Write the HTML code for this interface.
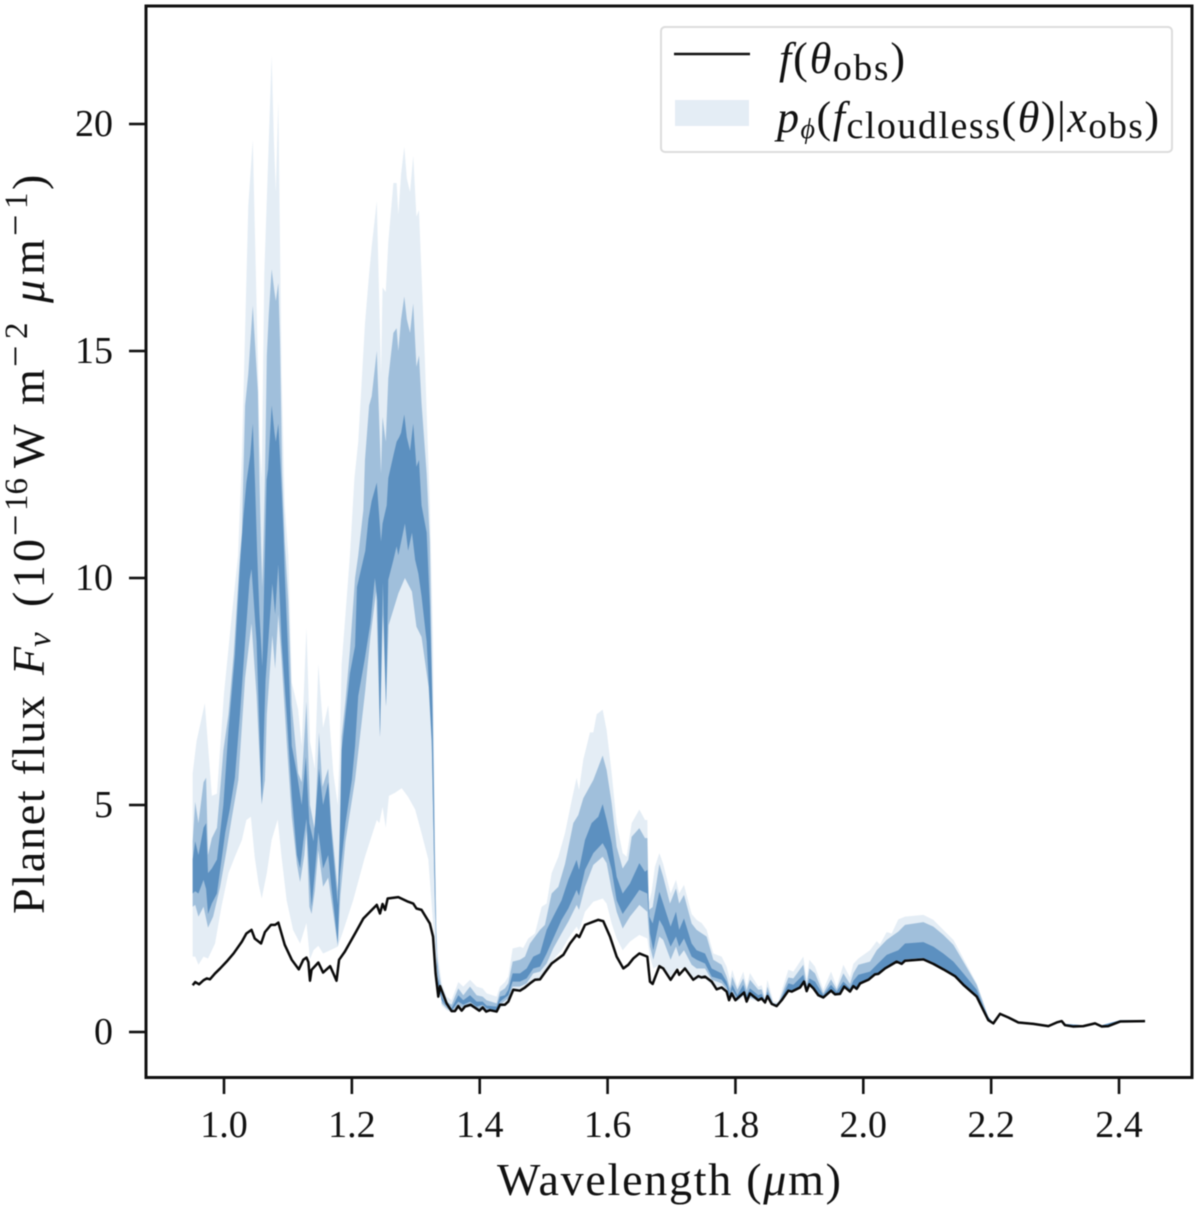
<!DOCTYPE html>
<html lang="en">
<head>
<meta charset="utf-8">
<title>Planet flux spectrum</title>
<style>
html,body{margin:0;padding:0;background:#fff;}
svg{display:block;filter:blur(0.45px);}
text{font-family:"Liberation Serif","DejaVu Serif",serif;fill:#111;}
.it{font-style:italic;}
</style>
</head>
<body>
<svg id="chart" width="1200" height="1212" viewBox="0 0 1200 1212" xmlns="http://www.w3.org/2000/svg">
<rect x="0" y="0" width="1200" height="1212" fill="#fff"/>
<g id="bands"></g>
<g id="lines"></g>
<rect x="146" y="6" width="1046" height="1071.5" fill="none" stroke="#111" stroke-width="3"/>
<g id="xticks"></g>
<g id="yticks"></g>
<text x="497" y="1195" font-size="46" textLength="344" lengthAdjust="spacing">Wavelength (<tspan class="it">μ</tspan>m)</text>
<g>
<text transform="translate(44,914) rotate(-90)" font-size="46" textLength="218" lengthAdjust="spacing">Planet flux</text>
<text class="it" transform="translate(44,675) rotate(-90)" font-size="46">F</text>
<text class="it" transform="translate(50,647) rotate(-90)" font-size="33">ν</text>
<text transform="translate(44,607) rotate(-90)" font-size="46" textLength="68" lengthAdjust="spacing">(10</text>
<text transform="translate(28,536) rotate(-90)" font-size="38">−</text>
<text transform="translate(27,511) rotate(-90)" font-size="33">16</text>
<text transform="translate(44,468) rotate(-90)" font-size="46">W</text>
<text transform="translate(44,405) rotate(-90)" font-size="46">m</text>
<text transform="translate(28,367) rotate(-90)" font-size="38">−</text>
<text transform="translate(27,339) rotate(-90)" font-size="33">2</text>
<text class="it" transform="translate(44,303) rotate(-90)" font-size="46">μ</text>
<text transform="translate(44,275) rotate(-90)" font-size="46">m</text>
<text transform="translate(28,236) rotate(-90)" font-size="38">−</text>
<text transform="translate(27,209) rotate(-90)" font-size="33">1</text>
<text transform="translate(44,190) rotate(-90)" font-size="46">)</text>
</g>
<g>
<rect x="661" y="27" width="511" height="125" rx="4" fill="#fff" fill-opacity="0.85" stroke="#dcdcdc" stroke-width="2"/>
<line x1="674" y1="54" x2="750" y2="54" stroke="#111" stroke-width="2.4"/>
<rect x="675" y="100" width="74" height="26" fill="#e4edf5"/>
<text x="779" y="73" font-size="44" textLength="126" lengthAdjust="spacing"><tspan class="it">f</tspan>(<tspan class="it">θ</tspan><tspan font-size="37" dy="7">obs</tspan><tspan dy="-7">)</tspan></text>
<text x="777" y="132" font-size="44" textLength="382" lengthAdjust="spacing"><tspan class="it">p</tspan><tspan class="it" font-size="28" dy="6">ϕ</tspan><tspan dy="-6">(</tspan><tspan class="it">f</tspan><tspan font-size="38" dy="6">cloudless</tspan><tspan dy="-6">(</tspan><tspan class="it">θ</tspan>)|<tspan class="it">x</tspan><tspan font-size="37" dy="6">obs</tspan><tspan dy="-6">)</tspan></text>
</g>
</svg>
<script>
const xTickValues = [1.0, 1.2, 1.4, 1.6, 1.8, 2.0, 2.2, 2.4];
const xTickLabels = ["1.0", "1.2", "1.4", "1.6", "1.8", "2.0", "2.2", "2.4"];
const yTickValues = [0, 5, 10, 15, 20];
const yTickLabels = ["0", "5", "10", "15", "20"];

const observed = [[.951,1.03],[.955,1.1],[.961,1.05],[.968,1.14],[.973,1.18],[.978,1.16],[.986,1.29],[.994,1.4],[1.004,1.55],[1.015,1.73],[1.028,1.99],[1.035,2.17],[1.043,2.25],[1.048,2.06],[1.058,1.95],[1.064,2.2],[1.0735,2.36],[1.08,2.36],[1.085,2.41],[1.095,1.92],[1.106,1.59],[1.117,1.38],[1.124,1.59],[1.129,1.64],[1.132,1.54],[1.1345,1.13],[1.137,1.37],[1.1476,1.53],[1.155,1.31],[1.166,1.45],[1.171,1.29],[1.176,1.13],[1.18,1.59],[1.189,1.77],[1.205,2.17],[1.218,2.5],[1.239,2.8],[1.244,2.61],[1.248,2.82],[1.252,2.69],[1.256,2.94],[1.2727,2.97],[1.288,2.87],[1.296,2.83],[1.301,2.72],[1.309,2.69],[1.322,2.39],[1.327,2.1],[1.331,1.29],[1.3352,.78],[1.338,1.01],[1.3483,.63],[1.356,.46],[1.3613,.46],[1.3665,.57],[1.3717,.47],[1.377,.56],[1.3858,.6],[1.3994,.47],[1.4046,.54],[1.41,.45],[1.416,.48],[1.4265,.45],[1.4317,.6],[1.4395,.6],[1.4447,.67],[1.4525,.93],[1.463,.91],[1.4708,.98],[1.4786,1.07],[1.4864,1.15],[1.4943,1.16],[1.502,1.31],[1.5125,1.51],[1.523,1.62],[1.5308,1.7],[1.5412,1.95],[1.5516,2.14],[1.5558,2.09],[1.5647,2.36],[1.5777,2.43],[1.5855,2.47],[1.5933,2.44],[1.6038,2.1],[1.6142,1.66],[1.6246,1.4],[1.6324,1.48],[1.6403,1.62],[1.6497,1.73],[1.6622,1.66],[1.6663,1.11],[1.6705,1.06],[1.681,1.45],[1.687,1.4],[1.6986,1.15],[1.709,1.37],[1.712,1.26],[1.721,1.4],[1.734,1.15],[1.742,1.23],[1.747,1.2],[1.7524,1.22],[1.7628,1.11],[1.7706,.94],[1.7784,.98],[1.7862,.89],[1.79,.7],[1.794,.85],[1.8,.7],[1.8134,.87],[1.8175,.67],[1.8227,.85],[1.8358,.7],[1.841,.74],[1.8463,.65],[1.85,.79],[1.8567,.62],[1.8645,.57],[1.8723,.7],[1.8828,.91],[1.888,.89],[1.901,.98],[1.9073,1.11],[1.9114,.9],[1.9156,1.05],[1.922,.96],[1.9297,.81],[1.9375,.76],[1.9495,.91],[1.9557,.83],[1.9636,.84],[1.97,1],[1.9792,.89],[1.9844,1.01],[1.9897,.95],[1.995,1.07],[2.008,1.15],[2.0183,1.27],[2.0235,1.28],[2.034,1.4],[2.0522,1.55],[2.06,1.5],[2.0653,1.57],[2.094,1.6],[2.1096,1.5],[2.1252,1.38],[2.1435,1.23],[2.1565,1.04],[2.1774,.78],[2.1878,.48],[2.1956,.26],[2.2034,.19],[2.2139,.4],[2.227,.32],[2.2425,.21],[2.266,.18],[2.2895,.13],[2.3025,.21],[2.3103,.24],[2.3155,.15],[2.3286,.12],[2.3442,.13],[2.3625,.19],[2.373,.12],[2.3833,.13],[2.4016,.23],[2.4407,.24]];

const outerUpper = [[.951,5.7],[.957,6.4],[.97,7.24],[.981,5.2],[.989,5.25],[1.0,7.46],[1.012,9.15],[1.022,10.5],[1.028,12.7],[1.034,16],[1.038,18.2],[1.045,19.65],[1.051,16],[1.056,12.9],[1.059,12.2],[1.063,16.7],[1.07,19.6],[1.0745,21.5],[1.078,19.65],[1.081,18.5],[1.085,20.5],[1.0876,17.4],[1.09,14.5],[1.095,11.6],[1.1006,10.5],[1.106,7.7],[1.116,7.1],[1.1215,6.3],[1.129,8.9],[1.1345,6.4],[1.142,5.8],[1.1476,8.1],[1.155,6.7],[1.163,7.2],[1.171,5.7],[1.178,5],[1.181,6.2],[1.184,8.1],[1.19,9.2],[1.197,10.5],[1.204,12.2],[1.21,13],[1.2205,15.6],[1.227,16.7],[1.231,17.3],[1.239,18.3],[1.2456,14.5],[1.248,16.4],[1.253,16.3],[1.257,17.4],[1.265,18.7],[1.27,18.7],[1.2727,18],[1.277,18.9],[1.282,19.5],[1.286,18.8],[1.291,18.5],[1.296,19.3],[1.301,17.96],[1.305,18.1],[1.309,16.7],[1.314,14.9],[1.322,11.6],[1.327,8.6],[1.33,4.2],[1.3327,2.2],[1.3352,1.6],[1.3405,1.07],[1.3483,.78],[1.356,.7],[1.3665,1.1],[1.3743,1],[1.3848,1.15],[1.3952,1],[1.4046,.96],[1.4108,.85],[1.4265,.78],[1.4317,1],[1.4395,1.1],[1.4447,1.22],[1.4515,1.84],[1.463,1.88],[1.468,1.85],[1.476,2.06],[1.4864,2.17],[1.4969,2.76],[1.5047,2.83],[1.5125,3.5],[1.523,3.86],[1.5334,4.38],[1.5438,5.1],[1.5516,5.6],[1.5553,5.33],[1.562,6],[1.5725,6.6],[1.5777,6.6],[1.583,7],[1.5923,7.1],[1.5985,6.65],[1.6064,5.7],[1.6142,4.6],[1.6236,3.94],[1.6298,3.86],[1.6377,4.6],[1.6497,4.9],[1.6585,4.67],[1.6622,4.67],[1.6642,2.83],[1.669,3.1],[1.674,3.64],[1.681,3.94],[1.687,3.7],[1.6986,3.05],[1.707,3.35],[1.712,3.05],[1.7195,3.24],[1.7315,2.6],[1.7393,2.47],[1.747,2.4],[1.755,2.25],[1.7654,1.73],[1.7784,1.66],[1.7862,1.44],[1.7915,1.15],[1.795,1.37],[1.803,1],[1.8123,1.33],[1.8175,1],[1.8227,1.3],[1.8358,1],[1.841,1.03],[1.8463,.78],[1.85,1.15],[1.8593,.67],[1.867,.67],[1.8828,1.37],[1.8906,1.33],[1.9062,1.66],[1.9114,1.15],[1.9156,1.59],[1.9245,1.44],[1.9375,.93],[1.9495,1.33],[1.9584,1],[1.9688,1.48],[1.9792,1.2],[1.9844,1.5],[1.9923,1.62],[2.0105,1.8],[2.021,2],[2.026,1.93],[2.0366,2.2],[2.0444,2.17],[2.0548,2.48],[2.0653,2.54],[2.094,2.58],[2.1096,2.47],[2.1252,2.25],[2.141,2.03],[2.1565,1.62],[2.1774,1.07],[2.1878,.67]];

const middleUpper = [[.951,4.2],[.955,5.07],[.96,4.6],[.968,5.5],[.972,5.6],[.975,3.9],[.981,4.27],[.989,4.5],[.995,5.5],[.999,6.2],[1.007,7],[1.015,8.3],[1.025,10.5],[1.028,11],[1.033,13.8],[1.038,14.5],[1.045,16],[1.053,14.1],[1.0555,12.16],[1.058,10.7],[1.06,9.8],[1.062,10.9],[1.064,12.16],[1.067,14.9],[1.07,15.8],[1.0745,16.8],[1.079,16.3],[1.081,16.1],[1.085,16.5],[1.0876,15.2],[1.091,12.3],[1.095,10.8],[1.1006,9.5],[1.106,7.2],[1.116,5.7],[1.1215,5.5],[1.129,7.28],[1.1345,5],[1.142,4.45],[1.1486,6.6],[1.154,5.4],[1.163,5.8],[1.168,4.6],[1.178,3.1],[1.181,4.4],[1.184,6.5],[1.19,7.3],[1.197,8.4],[1.205,10],[1.21,10.5],[1.218,11.5],[1.2205,12.6],[1.227,13.8],[1.231,14],[1.239,15],[1.2456,12.3],[1.248,13.55],[1.253,13],[1.257,14.4],[1.265,15.4],[1.27,15.5],[1.2727,15],[1.277,15.7],[1.282,16.2],[1.286,15.7],[1.291,15.4],[1.296,16.05],[1.301,14.65],[1.305,14.9],[1.309,13.85],[1.317,12.3],[1.322,10.8],[1.325,8.3],[1.329,5],[1.3316,2],[1.3352,1.4],[1.3405,.93],[1.3483,.67],[1.356,.6],[1.3665,.96],[1.3743,.81],[1.3848,1],[1.3952,.81],[1.4046,.78],[1.4108,.7],[1.4265,.63],[1.4317,.89],[1.4395,.96],[1.4447,1.07],[1.4515,1.55],[1.463,1.59],[1.4708,1.66],[1.4786,1.95],[1.4943,2.25],[1.502,2.36],[1.5125,3.05],[1.523,3.2],[1.5334,3.7],[1.5464,4.6],[1.5542,4.78],[1.562,5.15],[1.5777,5.55],[1.5923,6.09],[1.5985,5.77],[1.6064,5.04],[1.6142,4.08],[1.6236,3.6],[1.6324,3.79],[1.6377,4.3],[1.6497,4.49],[1.6585,4.27],[1.6622,4.27],[1.6647,2.69],[1.6705,2.75],[1.681,3.7],[1.687,3.42],[1.6976,2.83],[1.707,3.16],[1.712,2.83],[1.7195,3.02],[1.7315,2.39],[1.7393,2.25],[1.755,2.1],[1.7654,1.59],[1.7784,1.48],[1.7862,1.22],[1.7915,.96],[1.795,1.22],[1.803,.93],[1.8123,1.18],[1.8175,.92],[1.8227,1.15],[1.8358,.93],[1.841,.94],[1.8463,.7],[1.85,1],[1.8593,.62],[1.867,.63],[1.8828,1.2],[1.8906,1.18],[1.9062,1.48],[1.9114,1.03],[1.9156,1.4],[1.9245,1.29],[1.9375,.85],[1.9495,1.16],[1.9584,.94],[1.9688,1.29],[1.9792,1.06],[1.9844,1.29],[1.9923,1.48],[2.0105,1.55],[2.021,1.8],[2.0366,2.03],[2.0548,2.21],[2.0653,2.36],[2.094,2.42],[2.1096,2.32],[2.1252,2.14],[2.141,1.92],[2.1565,1.55],[2.1774,1.04],[2.1878,.63]];

const innerUpper = [[.951,3.8],[.955,4.2],[.96,3.9],[.968,4.5],[.972,4.6],[.975,3.5],[.981,3.6],[.989,3.8],[.999,5],[1.007,6.65],[1.017,8.3],[1.025,10.3],[1.03,11.3],[1.035,12.1],[1.041,12.7],[1.045,13.4],[1.0485,12.1],[1.052,10.5],[1.0555,9.2],[1.06,8.05],[1.063,9.96],[1.0667,12.16],[1.069,12.4],[1.0745,13.8],[1.079,13.2],[1.081,13],[1.085,13.4],[1.089,12.3],[1.093,11],[1.095,10.1],[1.0996,8.6],[1.106,6.3],[1.114,5.7],[1.1215,5],[1.128,6.06],[1.1335,4.6],[1.14,4.2],[1.1486,5.8],[1.155,5],[1.163,5.5],[1.168,4.4],[1.178,2.8],[1.181,4.2],[1.184,6.2],[1.19,7],[1.197,7.9],[1.205,8.5],[1.208,9.8],[1.221,10.6],[1.226,11.3],[1.231,11.7],[1.239,12.1],[1.2456,10.8],[1.248,11.2],[1.2545,11.6],[1.257,12.2],[1.265,12.7],[1.27,13],[1.274,13.1],[1.277,13.2],[1.282,13.6],[1.286,13.1],[1.291,12.8],[1.296,13.4],[1.301,12.45],[1.305,12.6],[1.309,11.6],[1.317,11],[1.322,9.4],[1.326,7.2],[1.329,4.2],[1.3327,1.66],[1.3352,1.2],[1.3405,.78],[1.3483,.56],[1.356,.52],[1.3665,.81],[1.3743,.7],[1.3848,.81],[1.3952,.67],[1.4046,.67],[1.4108,.58],[1.4265,.56],[1.4317,.78],[1.4395,.81],[1.4447,.93],[1.4515,1.29],[1.463,1.29],[1.4734,1.4],[1.4838,1.66],[1.4943,1.73],[1.5047,2.25],[1.515,2.54],[1.528,2.9],[1.5386,3.35],[1.5516,3.79],[1.5553,3.57],[1.5647,4.23],[1.575,4.6],[1.5855,4.74],[1.5923,5.02],[1.5985,4.67],[1.6064,4.16],[1.6142,3.42],[1.6236,3.05],[1.635,3.27],[1.6497,3.72],[1.6585,3.53],[1.6622,3.57],[1.6653,2.54],[1.6705,2.39],[1.681,3.09],[1.687,2.83],[1.6986,2.32],[1.707,2.65],[1.712,2.25],[1.7195,2.5],[1.7315,1.95],[1.7393,1.8],[1.7524,1.73],[1.7628,1.4],[1.7784,1.29],[1.7862,1.11],[1.7915,.85],[1.795,1.04],[1.803,.81],[1.8123,1.04],[1.8175,.81],[1.8227,.96],[1.8358,.81],[1.841,.84],[1.8463,.67],[1.85,.89],[1.8593,.59],[1.867,.6],[1.8828,1.07],[1.8906,1.04],[1.9062,1.26],[1.9114,.96],[1.9156,1.18],[1.9245,1.11],[1.9375,.81],[1.9495,1.04],[1.9584,.89],[1.9688,1.11],[1.9792,.96],[1.9844,1.13],[1.9923,1.26],[2.0105,1.33],[2.021,1.48],[2.0366,1.7],[2.0548,1.8],[2.0653,1.95],[2.094,1.98],[2.1096,1.88],[2.1252,1.73],[2.141,1.55],[2.1565,1.29],[2.1774,.93],[2.1878,.56]];

const innerLower = [[.951,3.05],[.955,3.1],[.96,3.05],[.968,3.35],[.972,3.15],[.975,2.6],[.981,2.83],[.989,3.05],[1.002,4.4],[1.009,4.9],[1.017,5.6],[1.025,7],[1.033,8.6],[1.04,9.95],[1.043,10.2],[1.051,8.6],[1.059,5],[1.065,7.75],[1.0756,9.88],[1.08,9.2],[1.085,10.3],[1.09,8.6],[1.098,7],[1.106,5.2],[1.114,3.9],[1.119,3.6],[1.124,4.2],[1.129,4.7],[1.1335,3.5],[1.137,2.76],[1.142,3.5],[1.1476,4.4],[1.155,3.6],[1.163,3.9],[1.168,3.2],[1.178,1.95],[1.181,3.4],[1.19,4.6],[1.2,5.55],[1.205,6.3],[1.21,7.4],[1.22,8.2],[1.229,9],[1.236,10],[1.24,9.5],[1.244,6.5],[1.2485,9.9],[1.2534,7.17],[1.257,9.96],[1.265,10.4],[1.27,10.7],[1.2727,10.5],[1.283,11.2],[1.288,10.6],[1.294,11],[1.299,10.4],[1.304,10.1],[1.309,9.6],[1.317,8.6],[1.325,6.4],[1.329,3.5],[1.3327,1.44],[1.3352,1],[1.3405,.7],[1.3483,.56],[1.356,.47],[1.3665,.67],[1.3743,.6],[1.3848,.67],[1.3952,.56],[1.4046,.6],[1.4108,.52],[1.4265,.48],[1.4317,.67],[1.4447,.81],[1.4515,1.11],[1.463,1.11],[1.4734,1.18],[1.4838,1.4],[1.4943,1.44],[1.5047,1.73],[1.515,2.06],[1.528,2.47],[1.5386,2.72],[1.5516,3.13],[1.5553,3],[1.5647,3.57],[1.5777,3.94],[1.5923,4.16],[1.5985,4],[1.6064,3.57],[1.6142,2.9],[1.6236,2.6],[1.635,2.83],[1.6497,3.13],[1.6622,3.05],[1.6663,2.17],[1.6715,1.8],[1.681,2.47],[1.687,2.32],[1.6986,1.88],[1.707,2.1],[1.712,1.88],[1.7195,2.06],[1.7315,1.66],[1.7393,1.59],[1.7524,1.51],[1.7628,1.22],[1.7784,1.15],[1.7862,1],[1.7915,.78],[1.795,.93],[1.803,.74],[1.8123,.89],[1.8175,.74],[1.8227,.81],[1.8358,.74]];

const middleLower = [[.951,2.76],[.955,2.8],[.96,2.54],[.968,2.76],[.975,2.3],[.983,2.54],[.994,3.2],[1.004,4],[1.012,4.7],[1.0224,5.55],[1.033,7.8],[1.043,9],[1.051,7.4],[1.059,5.03],[1.064,5.55],[1.067,7],[1.0756,8.74],[1.08,8],[1.085,9.2],[1.09,8.2],[1.098,6.4],[1.106,4.74],[1.114,3.7],[1.119,3.3],[1.1257,3.9],[1.129,4.45],[1.1335,2.76],[1.137,2.6],[1.142,3.1],[1.1476,4],[1.155,3.2],[1.163,3.4],[1.171,2.6],[1.178,1.88],[1.182,3],[1.19,4.2],[1.205,5.55],[1.221,7.53],[1.229,8.7],[1.238,9.7],[1.244,6.5],[1.2485,9.2],[1.2534,7.17],[1.2575,8.96],[1.2727,9.66],[1.283,10],[1.294,9.7],[1.301,8.93],[1.309,8.7],[1.32,7.6],[1.325,6.3],[1.33,2.76],[1.334,1.44],[1.3405,.63],[1.3483,.52],[1.356,.45],[1.3665,.6],[1.3743,.52],[1.3848,.6],[1.3952,.5],[1.4046,.52],[1.4108,.48],[1.4265,.46],[1.4317,.6],[1.4447,.74],[1.4515,1],[1.463,1],[1.4734,1.07],[1.4838,1.29],[1.4943,1.33],[1.5047,1.51],[1.515,1.84],[1.528,2.17],[1.5386,2.43],[1.5516,2.8],[1.5553,2.69],[1.5647,3.2],[1.5777,3.68],[1.5923,3.86],[1.5985,3.72],[1.6064,3.13],[1.6142,2.65],[1.6236,2.28],[1.635,2.54],[1.6497,2.8],[1.6622,2.65],[1.6663,1.88],[1.6715,1.59],[1.681,2.1],[1.687,2.03],[1.6986,1.59],[1.707,1.88],[1.712,1.66],[1.7195,1.8],[1.7315,1.48],[1.7393,1.4],[1.7524,1.4],[1.7628,1.15],[1.7784,1.07],[1.7862,.94],[1.7915,.74],[1.795,.84],[1.803,.7],[1.8123,.81],[1.8175,.68],[1.8227,.76],[1.8358,.7]];

const outerLower = [[.951,1.66],[.955,1.66],[.96,1.48],[.968,1.66],[.975,1.62],[.986,1.95],[.996,2.76],[1.007,3.5],[1.017,3.86],[1.028,4.23],[1.035,4.67],[1.042,4.74],[1.048,3.86],[1.054,3.27],[1.059,2.94],[1.067,3.5],[1.0745,4.23],[1.084,4.68],[1.09,3.86],[1.098,2.9],[1.108,2.25],[1.119,1.95],[1.129,2.4],[1.1345,1.6],[1.14,1.8],[1.1476,1.9],[1.155,1.73],[1.166,1.8],[1.178,1.88],[1.187,2.25],[1.202,2.9],[1.2205,3.86],[1.239,4.67],[1.243,4.6],[1.248,4.96],[1.253,4.5],[1.258,5.2],[1.2675,5.27],[1.278,5.37],[1.288,5.18],[1.299,4.9],[1.309,4.38],[1.3196,3.8],[1.327,2.4],[1.3327,1.5],[1.338,1.07],[1.3405,.58],[1.3483,.48],[1.356,.43],[1.3665,.52],[1.3848,.54],[1.4046,.48],[1.4265,.44],[1.4317,.52],[1.4447,.63],[1.4515,.93],[1.463,.93],[1.4734,.98],[1.4838,1.15],[1.4943,1.18],[1.5047,1.37],[1.515,1.59],[1.528,1.8],[1.5386,2.06],[1.5516,2.32],[1.5553,2.22],[1.5647,2.65],[1.5777,2.87],[1.5923,2.94],[1.5985,2.83],[1.6064,2.39],[1.6142,2.06],[1.6236,1.8],[1.635,1.99],[1.6497,2.14],[1.6622,2.06],[1.6663,1.66],[1.6715,1.4],[1.681,1.48],[1.687,1.44],[1.6986,1.22],[1.707,1.4],[1.7195,1.4],[1.7315,1.22],[1.7393,1.15],[1.7524,1.18],[1.7628,1.04],[1.7784,.96],[1.7862,.89],[1.7915,.69],[1.795,.79],[1.803,.67],[1.8123,.78],[1.8175,.64],[1.8227,.72],[1.8358,.67]];

const upperTail = [[2.1956,.33],[2.2034,.2],[2.2139,.42],[2.227,.34],[2.2425,.23],[2.266,.2],[2.2895,.15],[2.3103,.26],[2.3155,.18],[2.3442,.15],[2.3625,.21],[2.373,.15],[2.4016,.26],[2.4407,.26]];

const lowerTail = [[1.841,.73],[1.8463,.67],[1.85,.8],[1.8567,.63],[1.8645,.59],[1.8723,.72],[1.8828,.93],[1.888,.92],[1.901,1],[1.9073,1.12],[1.9114,.92],[1.9156,1.07],[1.922,.98],[1.9297,.83],[1.9375,.78],[1.9495,.93],[1.9557,.86],[1.9636,.86],[1.97,1.02],[1.9792,.91],[1.9844,1.03],[1.9897,.97],[1.995,1.09],[2.008,1.17],[2.0183,1.29],[2.0235,1.3],[2.034,1.42],[2.0522,1.58],[2.06,1.53],[2.0653,1.6],[2.094,1.63],[2.1096,1.53],[2.1252,1.41],[2.1435,1.25],[2.1565,1.06],[2.1774,.79],[2.1878,.48],[2.1956,.25],[2.2034,.18],[2.2139,.38],[2.227,.3],[2.2425,.19],[2.266,.16],[2.2895,.11],[2.3025,.19],[2.3103,.22],[2.3155,.13],[2.3286,.1],[2.3442,.11],[2.3625,.17],[2.373,.1],[2.3833,.11],[2.4016,.21],[2.4407,.22]];

const NS = 'http://www.w3.org/2000/svg';
function xAxis(w) { return 224 + (w - 1.0) * 639.3; }
function yAxis(f) { return 1032 - f * 45.4; }
function point(p) { return xAxis(p[0]).toFixed(2) + ',' + yAxis(p[1]).toFixed(2); }
function sortByWave(a) { return a.slice().sort(function (p, q) { return p[0] - q[0]; }); }

function bandPoints(upper, lower) {
  const top = sortByWave(upper.concat(upperTail));
  const bottom = sortByWave(lower.concat(lowerTail)).reverse();
  return top.concat(bottom).map(point).join(' ');
}

const bandLayer = document.getElementById('bands');

const outerBand = document.createElementNS(NS, 'polygon');


outerBand.setAttribute('points', bandPoints(outerUpper, outerLower));
outerBand.setAttribute('fill', '#e4edf5');
bandLayer.appendChild(outerBand);

const middleBand = document.createElementNS(NS, 'polygon');


middleBand.setAttribute('points', bandPoints(middleUpper, middleLower));
middleBand.setAttribute('fill', '#a0bfdb');
bandLayer.appendChild(middleBand);

const innerBand = document.createElementNS(NS, 'polygon');


innerBand.setAttribute('points', bandPoints(innerUpper, innerLower));
innerBand.setAttribute('fill', '#5c90c0');
bandLayer.appendChild(innerBand);

const obsLine = document.createElementNS(NS, 'polyline');


obsLine.setAttribute('points', observed.map(point).join(' '));
obsLine.setAttribute('fill', 'none');
obsLine.setAttribute('stroke', '#0a0a0a');
obsLine.setAttribute('stroke-width', '2.5');
obsLine.setAttribute('stroke-linejoin', 'round');
document.getElementById('lines').appendChild(obsLine);

const xTickGroup = document.getElementById('xticks');
xTickValues.forEach(function (v, i) {
  const t = document.createElementNS(NS, 'line');
  
  
  t.setAttribute('x1', xAxis(v));
  t.setAttribute('x2', xAxis(v));
  t.setAttribute('y1', 1078);
  t.setAttribute('y2', 1094);
  t.setAttribute('stroke', '#111');
  t.setAttribute('stroke-width', '2.6');
  xTickGroup.appendChild(t);
  const l = document.createElementNS(NS, 'text');
  
  
  l.setAttribute('x', xAxis(v));
  l.setAttribute('y', 1137);
  l.setAttribute('font-size', '38');
  l.setAttribute('text-anchor', 'middle');
  l.textContent = xTickLabels[i];
  xTickGroup.appendChild(l);
});

const yTickGroup = document.getElementById('yticks');
yTickValues.forEach(function (v, i) {
  const t = document.createElementNS(NS, 'line');
  
  
  t.setAttribute('x1', 129);
  t.setAttribute('x2', 145);
  t.setAttribute('y1', yAxis(v));
  t.setAttribute('y2', yAxis(v));
  t.setAttribute('stroke', '#111');
  t.setAttribute('stroke-width', '2.6');
  yTickGroup.appendChild(t);
  const l = document.createElementNS(NS, 'text');
  
  
  l.setAttribute('x', 113);
  l.setAttribute('y', yAxis(v) + 12);
  l.setAttribute('font-size', '38');
  l.setAttribute('text-anchor', 'end');
  l.textContent = yTickLabels[i];
  yTickGroup.appendChild(l);
});
</script>
</body>
</html>
